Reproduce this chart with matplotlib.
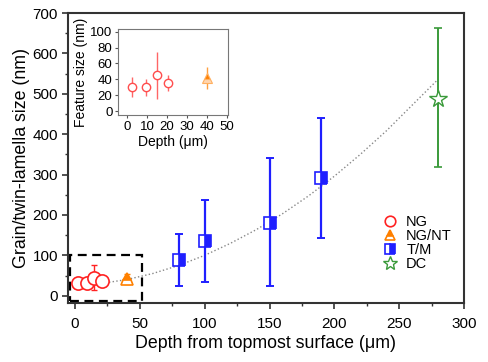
import numpy as np
import matplotlib
matplotlib.use('Agg')
import matplotlib.pyplot as plt
from matplotlib.patches import Rectangle

plt.rcParams['font.family'] = ['Liberation Sans', 'DejaVu Sans']

# --- data ---
ng_depth = [2.5, 9.5, 15, 20.5]
ng_size = [31, 31, 45, 36]
ng_lo = [18, 19.5, 15, 25]
ng_hi = [42.5, 40.5, 75, 45]

ngnt_depth = [40]
ngnt_size = [42]
ngnt_lo = [28]
ngnt_hi = [55]

tm_depth = [80, 100, 150, 190]
tm_size = [88, 136, 181, 291]
tm_lo = [24, 33, 23, 144]
tm_hi = [153, 238, 340, 441]

dc_depth = [280]
dc_size = [488]
dc_lo = [318]
dc_hi = [662]

# dotted trend curve
trend_x = [15, 40, 60, 80, 100, 120, 140, 160, 180, 200, 220, 240, 260, 280]
trend_y = [28, 40, 55, 75, 100, 130, 164, 203, 247, 296, 350, 408, 472, 536]

RED = '#ff2222'
ORANGE = '#ff8000'
BLUE = '#1f1fff'
GREEN = '#3a9a3a'
SPINE = '#333333'


def yerr(vals, lo, hi):
    v = np.array(vals, dtype=float)
    return [v - np.array(lo), np.array(hi) - v]


fig = plt.figure(figsize=(4.88, 3.62), dpi=100)
ax = fig.add_axes([0.139, 0.163, 0.812, 0.801])

ax.plot(trend_x, trend_y, ls=':', color='#888888', lw=1.0, zorder=1)

ax.add_patch(Rectangle((-4, -14), 56, 116, fill=False, ec='black',
                       lw=1.6, ls=(0, (4, 2.5)), zorder=2))

# error bars
ax.errorbar(ng_depth, ng_size, yerr=yerr(ng_size, ng_lo, ng_hi), fmt='none',
            ecolor=RED, elinewidth=1.0, capsize=2.5, capthick=1.0, zorder=3)
ax.errorbar(ngnt_depth, ngnt_size, yerr=yerr(ngnt_size, ngnt_lo, ngnt_hi), fmt='none',
            ecolor=ORANGE, elinewidth=1.0, capsize=2.5, capthick=1.0, zorder=3)
ax.errorbar(tm_depth, tm_size, yerr=yerr(tm_size, tm_lo, tm_hi), fmt='none',
            ecolor=BLUE, elinewidth=1.6, capsize=2.8, capthick=1.4, zorder=3)
ax.errorbar(dc_depth, dc_size, yerr=yerr(dc_size, dc_lo, dc_hi), fmt='none',
            ecolor=GREEN, elinewidth=1.4, capsize=2.8, capthick=1.2, zorder=3)

# markers
ax.plot(ng_depth, ng_size, ls='none', marker='o', ms=9.5, mfc='white', mec=RED,
        mew=1.2, label='NG', zorder=4)
ax.plot(ngnt_depth, ngnt_size, ls='none', marker='^', ms=9, mfc=ORANGE, mec=ORANGE,
        fillstyle='top', markerfacecoloralt='white', mew=1.2, label='NG/NT', zorder=4)
ax.plot(tm_depth, tm_size, ls='none', marker='s', ms=9, mfc=BLUE, mec=BLUE,
        fillstyle='right', markerfacecoloralt='white', mew=1.2, label='T/M', zorder=4)
ax.plot(dc_depth, dc_size, ls='none', marker='*', ms=13, mfc='white', mec=GREEN,
        mew=1.0, label='DC', zorder=4)

ax.set_xlim(-5.5, 300)
ax.set_ylim(-18, 700)
ax.set_xticks(np.arange(0, 301, 50))
ax.set_xticks(np.arange(0, 301, 25), minor=True)
ax.set_yticks(np.arange(0, 701, 100))
ax.set_yticks(np.arange(0, 701, 50), minor=True)
ax.tick_params(which='major', direction='out', length=4, width=1.2, color=SPINE,
               labelsize=11)
ax.tick_params(axis='x', which='major', pad=6)
ax.tick_params(axis='y', which='major', pad=3)
ax.tick_params(which='minor', direction='out', length=2.5, width=1.0, color=SPINE)
for s in ax.spines.values():
    s.set_linewidth(1.5)
    s.set_color(SPINE)

ax.set_xlabel('Depth from topmost surface (μm)', fontsize=12.8, labelpad=3)
ax.set_ylabel('Grain/twin-lamella size (nm)', fontsize=12.8, labelpad=2)

ax.legend(loc='lower right', bbox_to_anchor=(0.995, 0.075), frameon=False,
          fontsize=10.5, markerscale=0.8, handlelength=1.0, handletextpad=0.6,
          labelspacing=0.0, borderpad=0.2)

# inset
ins = fig.add_axes([0.242, 0.682, 0.225, 0.237])
ins.errorbar(ng_depth, ng_size, yerr=yerr(ng_size, ng_lo, ng_hi), fmt='o', ms=6,
             mfc='white', mec='#ff4d4d', mew=1.0, ecolor='#ff6666', elinewidth=1.0,
             capsize=0)
ins.errorbar(ngnt_depth, ngnt_size, yerr=yerr(ngnt_size, ngnt_lo, ngnt_hi), fmt='^',
             ms=6.5, mfc=ORANGE, mec='#ffb060', fillstyle='top',
             markerfacecoloralt='#ffd6b0', mew=0.8, ecolor='#ffa040',
             elinewidth=1.0, capsize=0)
ins.set_xlim(-4.5, 50.5)
ins.set_ylim(-5, 103)
ins.set_xticks(np.arange(0, 51, 10))
ins.set_yticks(np.arange(0, 101, 20))
ins.tick_params(direction='out', length=2.5, width=0.8, color='#555555',
                labelsize=9.5, pad=1.5)
for s in ins.spines.values():
    s.set_linewidth(0.8)
    s.set_color('#777777')
ins.set_xlabel('Depth (μm)', fontsize=10, labelpad=2)
ins.set_ylabel('Feature size (nm)', fontsize=10, labelpad=2)

fig.savefig('out.png', dpi=100)
